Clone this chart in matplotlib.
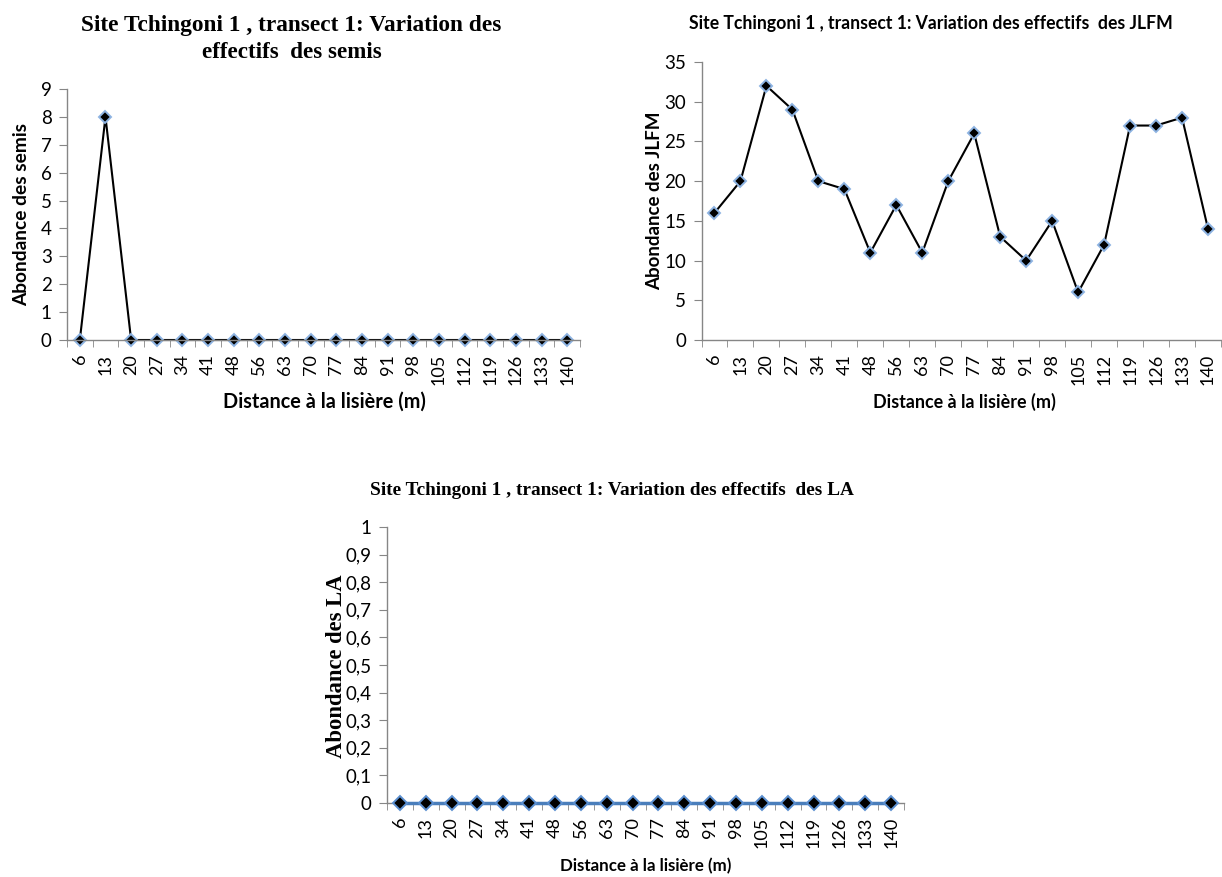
import matplotlib
matplotlib.use('Agg')
import matplotlib.pyplot as plt
from matplotlib.ticker import FixedLocator

distances = ['6', '13', '20', '27', '34', '41', '48', '56', '63', '70', '77', '84', '91', '98', '105', '112', '119', '126', '133', '140']
semis = [0, 8, 0, 0, 0, 0, 0, 0, 0, 0, 0, 0, 0, 0, 0, 0, 0, 0, 0, 0]
jlfm = [16, 20, 32, 29, 20, 19, 11, 17, 11, 20, 26, 13, 10, 15, 6, 12, 27, 27, 28, 14]
la = [0] * 20

W, H = 1222, 877
sans = ['Lato', 'DejaVu Sans']
serif = ['Liberation Serif', 'DejaVu Serif']
axis_grey = '#868686'

fig = plt.figure(figsize=(W / 100, H / 100), dpi=100)
renderer = fig.canvas.get_renderer()


def box(x0, y0, x1, y1):
    # pixel box (top-left origin) -> figure fraction rect
    return [x0 / W, 1 - y1 / H, (x1 - x0) / W, (y1 - y0) / H]


def label(x, y, s, width, family, rotation=0, weight='bold'):
    # place text at pixel centre and scale it to the measured length
    t = fig.text(x / W, 1 - y / H, s, ha='center', va='center', rotation=rotation,
                 fontfamily=family, fontweight=weight, fontsize=12)
    bb = t.get_window_extent(renderer)
    length = bb.height if rotation else bb.width
    t.set_fontsize(12 * width / length)
    return t


def style(ax, ymax, step, labels):
    n = len(distances)
    ax.set_xlim(-0.5, n - 0.5)
    ax.set_ylim(0, ymax)
    ax.spines['top'].set_visible(False)
    ax.spines['right'].set_visible(False)
    for s in ('left', 'bottom'):
        ax.spines[s].set_color(axis_grey)
        ax.spines[s].set_linewidth(1.0)
    ax.set_xticks(range(n))
    ax.set_xticklabels(distances, rotation=90, fontfamily=sans, fontsize=13)
    ax.xaxis.set_minor_locator(FixedLocator([i - 0.5 for i in range(n + 1)]))
    ax.tick_params(axis='x', which='major', length=0, pad=10)
    ax.tick_params(axis='x', which='minor', length=5, color=axis_grey, direction='out')
    ticks = [i * step for i in range(int(round(ymax / step)) + 1)]
    ax.set_yticks(ticks)
    ax.set_yticklabels(labels, fontfamily=sans, fontsize=13.5)
    ax.tick_params(axis='y', length=6, color=axis_grey, direction='out', pad=5)
    ax.patch.set_alpha(0)


# chart 1 : semis
ax1 = fig.add_axes(box(67, 89, 580, 340))
ax1.plot(range(20), semis, color='black', lw=1.5, marker='D', ms=6,
         mfc='black', mec='#8db3e2', mew=1.4, clip_on=False)
style(ax1, 9, 1, [str(i) for i in range(10)])
label(291, 25, 'Site Tchingoni 1 , transect 1: Variation des', 420, serif)
label(292, 53, 'effectifs  des semis', 178, serif)
label(22, 214, 'Abondance des semis', 182, sans, rotation=90)
label(324, 402, 'Distance à la lisière (m)', 200, sans)

# chart 2 : JLFM
ax2 = fig.add_axes(box(701.5, 62, 1221, 340))
ax2.plot(range(20), jlfm, color='black', lw=1.5, marker='D', ms=6,
         mfc='black', mec='#8db3e2', mew=1.4, clip_on=False)
style(ax2, 35, 5, [str(i) for i in range(0, 40, 5)])
label(931, 23, 'Site Tchingoni 1 , transect 1: Variation des effectifs  des JLFM', 480, sans)
label(655, 201, 'Abondance des JLFM', 178, sans, rotation=90)
label(964, 402, 'Distance à la lisière (m)', 180, sans)

# chart 3 : LA
ax3 = fig.add_axes(box(387, 527, 904, 803))
ax3.plot(range(20), la, color='#4a7ebb', lw=2.5, marker='D', ms=7,
         mfc='black', mec='#5b8fd0', mew=1.4, clip_on=False, zorder=5)
style(ax3, 1, 0.1, ['0'] + ['0,%d' % i for i in range(1, 10)] + ['1'])
label(612, 491, 'Site Tchingoni 1 , transect 1: Variation des effectifs  des LA', 481, serif)
label(336, 666, 'Abondance des LA', 182, serif, rotation=90)
label(646, 866, 'Distance à la lisière (m)', 170, sans)

plt.savefig('out.png', dpi=100)
